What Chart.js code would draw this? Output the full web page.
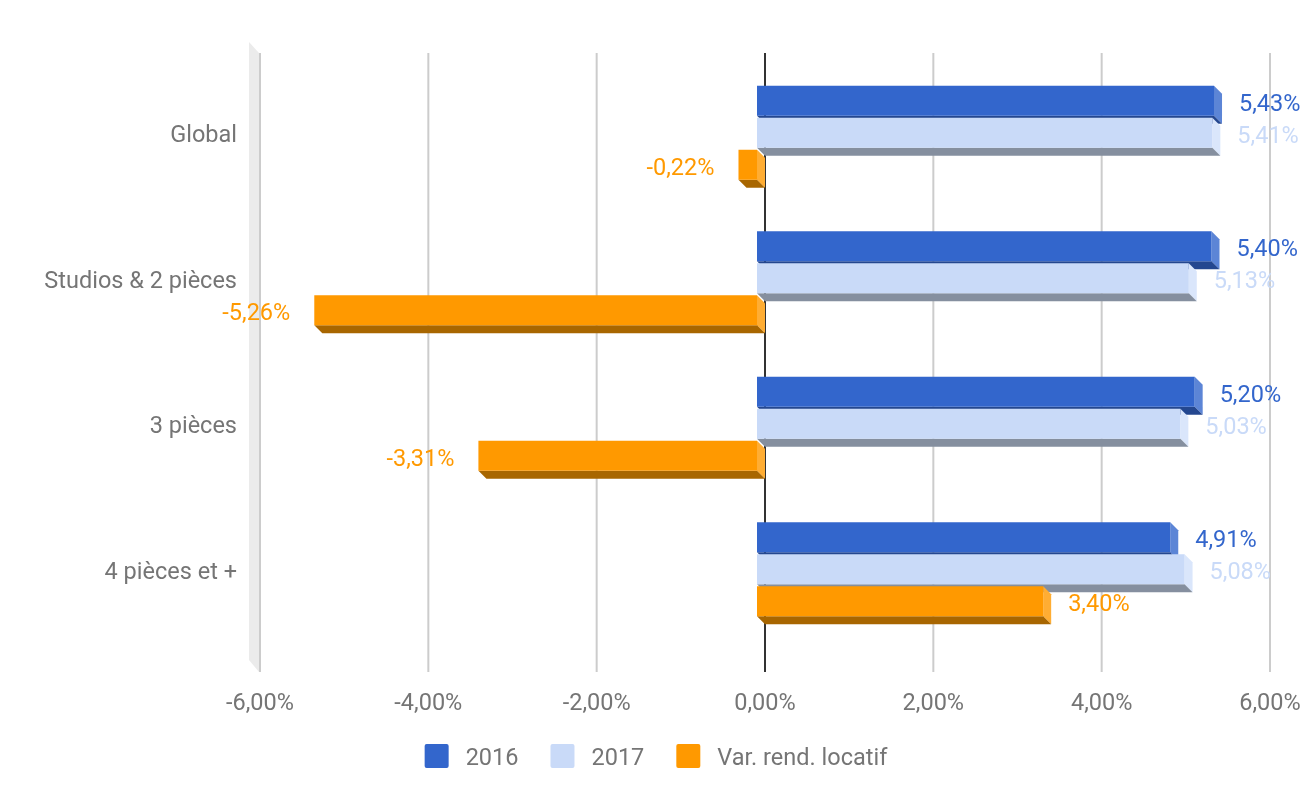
<!DOCTYPE html>
<html>
<head>
<meta charset="utf-8">
<script src="https://cdn.jsdelivr.net/npm/chart.js@4"></script>
<style>
  html, body { margin: 0; padding: 0; background: #fff; }
  #box { width: 1312px; height: 812px; }
</style>
</head>
<body>
<div id="box"><canvas id="graphique" width="1312" height="812"></canvas></div>
<script>
var categories = ["Global", "Studios & 2 pièces", "3 pièces", "4 pièces et +"];
var serie2016 = [5.43, 5.40, 5.20, 4.91];
var serie2017 = [5.41, 5.13, 5.03, 5.08];
var serieVar = [-0.22, -5.26, -3.31, 3.40];
var ticksX = [-6, -4, -2, 0, 2, 4, 6];
var nomsSeries = ["2016", "2017", "Var. rend. locatif"];

var couleurs = ["#3366cc", "#c9daf8", "#ff9900"];
var couleursCote = ["#5c85d6", "#dae6fb", "#ffad33"];
var couleursBas = ["#24478f", "#858f9f", "#a86600"];
var police = "Roboto";
var taille = 23.5;
var gris = "#757575";
var prof = 8; // profondeur 3D

function fmt(v) {
  return v.toFixed(2).replace(".", ",") + "%";
}

// faces 3D : cote droit + dessous, dessinees avant les faces avant
var plugin3d = {
  id: "plugin3d",
  beforeDatasetsDraw: function (chart) {
    var ctx = chart.ctx;
    var xs = chart.scales.x;
    ctx.save();
    // mur gauche
    var gx = xs.getPixelForValue(ticksX[0]) + prof;
    ctx.fillStyle = "#ebebeb";
    ctx.beginPath();
    ctx.moveTo(gx - 11, 42);
    ctx.lineTo(gx - 1, 53);
    ctx.lineTo(gx - 1, 672);
    ctx.lineTo(gx - 11, 660);
    ctx.closePath();
    ctx.fill();
    // grille
    ticksX.forEach(function (t) {
      var px = xs.getPixelForValue(t) + prof;
      ctx.fillStyle = t === 0 ? "#333333" : "#cccccc";
      ctx.fillRect(px - 1, 53, 2, 619);
    });
    // faces laterales
    chart.data.datasets.forEach(function (ds, i) {
      chart.getDatasetMeta(i).data.forEach(function (bar) {
        var p = bar.getProps(["x", "base", "y", "height"], true);
        var g = Math.min(p.x, p.base), d = Math.max(p.x, p.base);
        var h = p.y - p.height / 2, b = p.y + p.height / 2;
        ctx.fillStyle = couleursCote[i];
        ctx.beginPath();
        ctx.moveTo(d, h);
        ctx.lineTo(d + prof, h + prof);
        ctx.lineTo(d + prof, b + prof);
        ctx.lineTo(d, b);
        ctx.closePath();
        ctx.fill();
        ctx.fillStyle = couleursBas[i];
        ctx.beginPath();
        ctx.moveTo(g, b);
        ctx.lineTo(d, b);
        ctx.lineTo(d + prof, b + prof);
        ctx.lineTo(g + prof, b + prof);
        ctx.closePath();
        ctx.fill();
      });
    });
    ctx.restore();
  },
  afterDatasetsDraw: function (chart) {
    var ctx = chart.ctx;
    var xs = chart.scales.x, ys = chart.scales.y;
    ctx.save();
    ctx.font = taille + "px " + police;
    ctx.textBaseline = "alphabetic";
    // etiquettes de valeurs
    chart.data.datasets.forEach(function (ds, i) {
      var meta = chart.getDatasetMeta(i);
      ctx.fillStyle = couleurs[i];
      meta.data.forEach(function (bar, j) {
        var v = ds.data[j];
        var p = bar.getProps(["x", "y"], true);
        if (v >= 0) {
          ctx.textAlign = "left";
          ctx.fillText(fmt(v), p.x + prof + 17, p.y + 10);
        } else {
          ctx.textAlign = "right";
          ctx.fillText(fmt(v), p.x + prof - 32, p.y + 10);
        }
      });
    });
    // axe x
    ctx.fillStyle = gris;
    ctx.textAlign = "center";
    ticksX.forEach(function (t) {
      ctx.fillText(fmt(t), xs.getPixelForValue(t) + prof, 709.5);
    });
    // categories
    ctx.textAlign = "right";
    categories.forEach(function (c, j) {
      ctx.fillText(c, 237, ys.getPixelForValue(j) + 9.5);
    });
    // legende
    var largeurs = nomsSeries.map(function (n) { return 24 + 17 + ctx.measureText(n).width; });
    var total = largeurs.reduce(function (a, b) { return a + b; }, 0) + 32 * (nomsSeries.length - 1);
    var lx = chart.width / 2 - total / 2;
    ctx.textAlign = "left";
    nomsSeries.forEach(function (n, i) {
      ctx.fillStyle = couleurs[i];
      ctx.beginPath();
      ctx.roundRect(lx, 744, 24, 24, 2);
      ctx.fill();
      ctx.fillStyle = gris;
      ctx.fillText(n, lx + 41, 764.5);
      lx += largeurs[i] + 32;
    });
    ctx.restore();
  }
};

function serie(i, valeurs) {
  return {
    label: nomsSeries[i],
    data: valeurs,
    backgroundColor: couleurs[i],
    borderWidth: 0,
    barPercentage: 0.9375,
    categoryPercentage: 0.66
  };
}

new Chart(document.getElementById("graphique"), {
  type: "bar",
  data: {
    labels: categories,
    datasets: [serie(0, serie2016), serie(1, serie2017), serie(2, serieVar)]
  },
  options: {
    indexAxis: "y",
    responsive: false,
    animation: false,
    devicePixelRatio: 1,
    layout: { padding: { left: 252, right: 50, top: 60, bottom: 170 } },
    scales: {
      x: { type: "linear", min: -6, max: 6, display: false },
      y: { type: "category", display: false, offset: true }
    },
    plugins: {
      legend: { display: false },
      tooltip: { enabled: false }
    }
  },
  plugins: [plugin3d]
});
</script>
</body>
</html>
